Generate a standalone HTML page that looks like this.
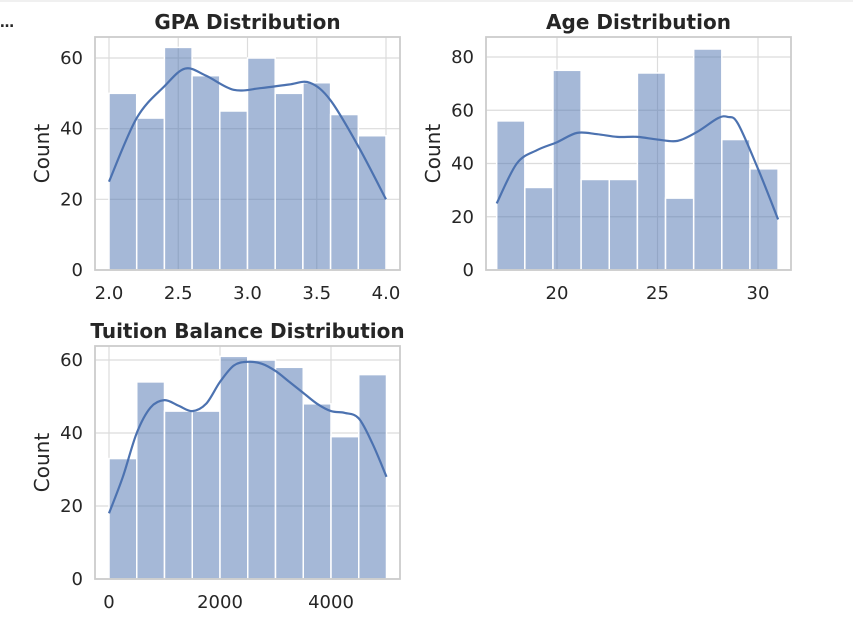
<!DOCTYPE html>
<html><head><meta charset="utf-8"><style>
body{margin:0;background:#fff;width:853px;height:625px;overflow:hidden;font-family:"Liberation Sans","DejaVu Sans",sans-serif}
svg text{font-family:"DejaVu Sans","Liberation Sans",sans-serif;fill:#262626}
</style></head><body>
<svg id="c" width="853" height="625">
<line x1="0" y1="1" x2="853" y2="1" stroke="#e0e0e0"/>
<text x="0" y="27" font-size="14" font-weight="bold">…</text>
</svg>
<script>
const gpaCounts=[50,43,63,55,45,60,50,53,44,38];
const gpaKdeX=[2.0,2.2,2.4,2.55,2.7,2.9,3.1,3.3,3.45,3.6,3.8,4.0];
const gpaKdeY=[25,43,52,57,55,51,51.5,52.5,53,48,35,20];
const ageCounts=[56,31,75,34,34,74,27,83,49,38];
const ageKdeX=[17,18,19,20,21,22,23,24,25,26,27,28,28.5,29,30,31];
const ageKdeY=[25,40,45,48,51.5,51,50,50,49,48.5,52,57,57.5,55,38,19];
const tuiCounts=[33,54,46,46,61,60,58,48,39,56];
const tuiKdeX=[0,250,500,750,1000,1250,1500,1750,2000,2250,2500,2750,3000,3250,3500,3750,4000,4250,4500,4750,5000];
const tuiKdeY=[18,28,40,47,49,47.5,46,48,54,58.5,59.5,59,57,54,51,48,46,45.5,44,37,28];
const gpaXTicks=[2.0,2.5,3.0,3.5,4.0];
const gpaYTicks=[0,20,40,60];
const ageXTicks=[20,25,30];
const ageYTicks=[0,20,40,60,80];
const tuiXTicks=[0,2000,4000];
const tuiYTicks=[0,20,40,60];
const NS="http://www.w3.org/2000/svg";
const svg=document.getElementById('c');
function mk(tag,attrs,parent){const e=document.createElementNS(NS,tag);for(const k in attrs)e.setAttribute(k,attrs[k]);(parent||svg).appendChild(e);return e;}
function panel(o){
  const g=mk('g',{});
  
  
  const X=v=>o.px0+(v-o.x0)*(o.px1-o.px0)/(o.x1-o.x0);
  const Y=v=>o.py0-v*(o.py0-o.py1)/o.yRef;
  o.yTicks.forEach(t=>{const l=mk('line',{x1:o.L,x2:o.R,y1:Y(t),y2:Y(t),stroke:'#dcdcdc','stroke-width':1.2},g);
    
    const tx=mk('text',{x:o.L-12,y:Y(t)+6,'font-size':18,'text-anchor':'end'},g);tx.textContent=t;
    });
  o.xTicks.forEach(t=>{const l=mk('line',{x1:X(t),x2:X(t),y1:o.T,y2:o.B,stroke:'#dcdcdc','stroke-width':1.2},g);
    
    const tx=mk('text',{x:X(t),y:o.B+29,'font-size':18,'text-anchor':'middle'},g);tx.textContent=o.fmt(t);
    });
  const n=o.counts.length,w=(o.x1b-o.x0b)/n;
  o.counts.forEach((c,i)=>{const xa=X(o.x0b+i*w),xb=X(o.x0b+(i+1)*w);
    const r=mk('rect',{x:xa,y:Y(c),width:xb-xa,height:Y(0)-Y(c),fill:'#4c72b0','fill-opacity':0.5,stroke:'#fff','stroke-width':1.5},g);
    });
  const p=o.kx.map((x,i)=>[X(x),Y(o.ky[i])]);
  let d='M'+p[0][0]+','+p[0][1];
  for(let i=0;i<p.length-1;i++){const p0=p[Math.max(0,i-1)],p1=p[i],p2=p[i+1],p3=p[Math.min(p.length-1,i+2)];
    d+=` C${p1[0]+(p2[0]-p0[0])/6},${p1[1]+(p2[1]-p0[1])/6} ${p2[0]-(p3[0]-p1[0])/6},${p2[1]-(p3[1]-p1[1])/6} ${p2[0]},${p2[1]}`;}
  const k=mk('path',{d:d,fill:'none',stroke:'#4c72b0','stroke-width':2.2},g);
  
  const fr=mk('rect',{x:o.L,y:o.T,width:o.R-o.L,height:o.B-o.T,fill:'none',stroke:'#cccccc','stroke-width':1.8},g);
  
  const ti=mk('text',{x:(o.L+o.R)/2,y:o.T-8,'font-size':20,'font-weight':'bold','text-anchor':'middle'},g);ti.textContent=o.title;
  
  const yl=mk('text',{x:0,y:0,'font-size':20,'text-anchor':'middle',transform:`translate(${o.yl},${(o.T+o.B)/2}) rotate(-90)`},g);yl.textContent='Count';
  
}
panel({name:'gpa',title:'GPA Distribution',L:95,R:400,T:37,B:270,x0:2,x1:4,px0:109,px1:386,x0b:2,x1b:4,py0:270,py1:58,yRef:60,
 counts:gpaCounts,kx:gpaKdeX,ky:gpaKdeY,xTicks:gpaXTicks,yTicks:gpaYTicks,fmt:t=>t.toFixed(1),yl:49});
panel({name:'age',title:'Age Distribution',L:486,R:791,T:37,B:270,x0:20,x1:30,px0:557,px1:758,x0b:17,x1b:31,py0:270,py1:57,yRef:80,
 counts:ageCounts,kx:ageKdeX,ky:ageKdeY,xTicks:ageXTicks,yTicks:ageYTicks,fmt:t=>t,yl:440});
panel({name:'tuition',title:'Tuition Balance Distribution',L:95,R:400,T:346,B:579,x0:0,x1:4000,px0:109,px1:331,x0b:0,x1b:5000,py0:579,py1:360,yRef:60,
 counts:tuiCounts,kx:tuiKdeX,ky:tuiKdeY,xTicks:tuiXTicks,yTicks:tuiYTicks,fmt:t=>t,yl:49});
</script>
</body></html>
